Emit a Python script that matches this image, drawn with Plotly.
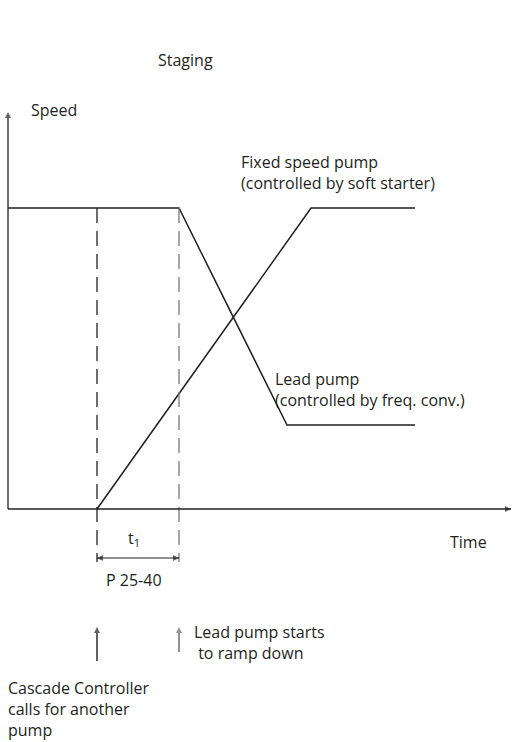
import plotly.graph_objects as go

# Speed profiles during staging (time in arbitrary units, speed in % of full speed)
lead_time = [0.0, 17.1, 27.9, 40.7]
lead_speed = [100.0, 100.0, 27.9, 27.9]

fixed_time = [8.9, 30.3, 40.7]
fixed_speed = [0.0, 100.0, 100.0]

t_call = 8.9      # cascade controller calls for another pump
t_ramp = 17.1     # lead pump starts to ramp down (t1 = P 25-40 later)

W, H = 512, 742
X0_PX, Y0_PX = 8.0, 509.0        # origin of the time/speed axes
X_SCALE, Y_SCALE = 10.0, 3.01    # pixels per unit

def px_x(px):
    return (px - X0_PX) / X_SCALE

def px_y(py):
    return (Y0_PX - py) / Y_SCALE

INK = "#231f20"
FONT = dict(family="Open Sans", size=16, color=INK)

fig = go.Figure()

def arrow_line(xs, ys, symbols, color=INK, width=1.3, size=6):
    # a line with arrowhead markers at the chosen ends ("" = no head)
    sizes = [size if s else 0 for s in symbols]
    syms = [s if s else "circle" for s in symbols]
    fig.add_trace(go.Scatter(x=xs, y=ys, mode="lines+markers",
                             line=dict(color=color, width=width),
                             marker=dict(symbol=syms, size=sizes, color=color,
                                         line=dict(width=0)),
                             hoverinfo="skip"))

fig.add_trace(go.Scatter(x=lead_time, y=lead_speed, mode="lines",
                         line=dict(color=INK, width=1.5), hoverinfo="skip"))
fig.add_trace(go.Scatter(x=fixed_time, y=fixed_speed, mode="lines",
                         line=dict(color=INK, width=1.5), hoverinfo="skip"))

# dashed markers for the two events
dash_bottom = px_y(562)
for t, col in [(t_call, INK), (t_ramp, "#777777")]:
    fig.add_trace(go.Scatter(x=[t, t], y=[100, dash_bottom], mode="lines",
                             line=dict(color=col, width=1.3, dash="15px,8px"),
                             hoverinfo="skip"))

# axes with arrow heads
arrow_line([0, 0], [0, px_y(112)], ["", "arrow-up"], width=1.3, size=6)
arrow_line([0, px_x(511)], [0, 0], ["", "arrow-right"], width=1.6, size=6)

# t1 double arrow
y_t1 = px_y(558)
arrow_line([t_call, t_ramp], [y_t1, y_t1], ["arrow-left", "arrow-right"], width=1.2, size=6)

# event arrows below the chart
arrow_line([t_call, t_call], [px_y(661), px_y(627)], ["", "arrow-up"], width=1.4, size=6)
arrow_line([t_ramp, t_ramp], [px_y(652), px_y(627)], ["", "arrow-up"], color="#666666",
           width=1.4, size=6)

ann = []

def label(text, xp, yp, xanchor="left", yanchor="middle"):
    ann.append(dict(x=px_x(xp), y=px_y(yp), xref="x", yref="y", text=text,
                    showarrow=False, xanchor=xanchor, yanchor=yanchor,
                    align="left", borderpad=0, font=FONT))

label("Staging", 185, 60, "center")
label("Speed", 30, 110)
label("Fixed speed pump<br>(controlled by soft starter)", 240, 172.5)
label("Lead pump<br>(controlled by freq. conv.)", 274, 389.5)
label("Time", 468, 542, "center")
label("t<sub>1</sub>", 134, 538, "center")
label("P 25-40", 134, 580, "center")
label("Lead pump starts<br> to ramp down", 193, 642)
label("Cascade Controller<br>calls for another<br>pump", 7, 742, yanchor="bottom")

fig.update_layout(
    width=W, height=H,
    margin=dict(l=0, r=0, t=0, b=0),
    paper_bgcolor="white", plot_bgcolor="white",
    showlegend=False,
    xaxis=dict(visible=False, range=[px_x(0), px_x(W)], fixedrange=True),
    yaxis=dict(visible=False, range=[px_y(H), px_y(0)], fixedrange=True),
    annotations=ann,
)

fig.write_html("out.html")
